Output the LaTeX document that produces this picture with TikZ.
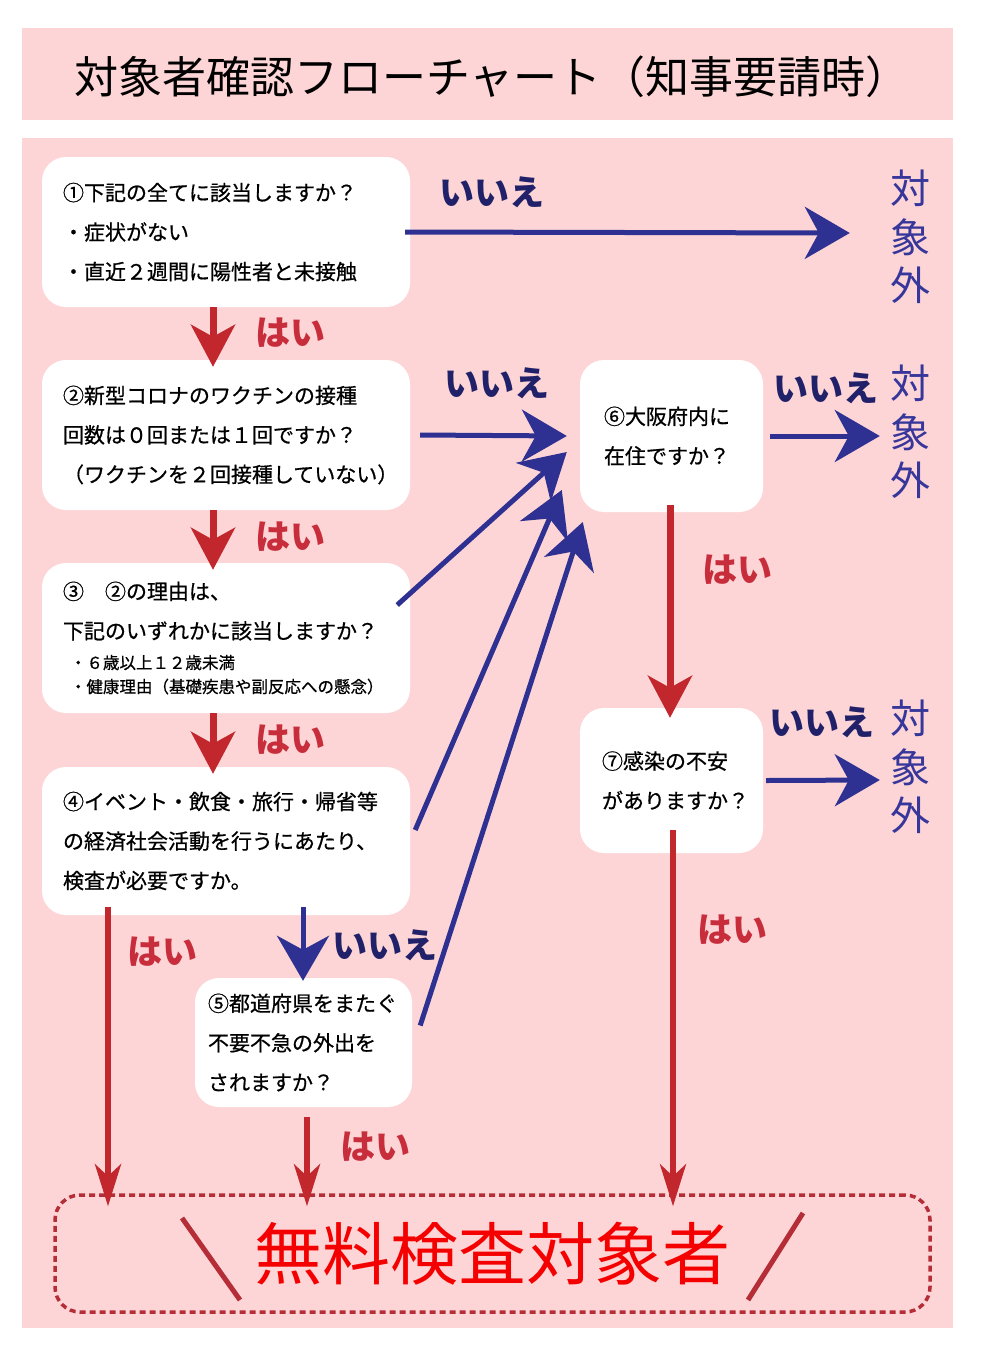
\documentclass[tikz,border=0pt]{standalone}
\usepackage{fontspec}
\setmainfont{Noto Sans CJK JP}
\newfontfamily\boxfont{Noto Sans CJK JP}[FakeBold=0.7]
\usetikzlibrary{
  arrows.meta,
  positioning,
  calc
}
\definecolor{pinkbg}{RGB}{253,213,214}
\definecolor{arrowred}{RGB}{193,39,45}
\definecolor{arrownavy}{RGB}{46,49,146}
\definecolor{yesred}{RGB}{200,45,60}
\definecolor{nonavy}{RGB}{33,33,105}
\definecolor{outnavy}{RGB}{55,55,155}
\definecolor{resred}{RGB}{245,0,0}
\definecolor{dashred}{RGB}{180,45,55}
\tikzset{
  qbox/.style={
    fill=white, rounded corners=24pt,
    inner xsep=21pt, inner ysep=0pt,
    align=left, text=black,
    font=\boxfont\fontsize{21}{39.5}\selectfont
  },
  yesarrow/.style={
    -{Stealth[length=42pt,width=44pt,inset=12pt]},
    draw=arrowred, line width=7pt
  },
  yeslong/.style={
    -{Stealth[length=42pt,width=26pt,inset=12pt]},
    draw=arrowred, line width=6pt
  },
  noarrow/.style={
    -{Stealth[length=45pt,width=52pt,inset=14pt]},
    draw=arrownavy, line width=5pt
  },
  yeslabel/.style={
    font=\fontsize{35}{35}\selectfont\bfseries, text=yesred
  },
  nolabel/.style={
    font=\fontsize{35}{35}\selectfont\bfseries, text=nonavy
  },
  outlabel/.style={
    font=\fontsize{40}{48.5}\selectfont, text=outnavy,
    align=center, inner sep=0pt
  },
  resbox/.style={
    draw=dashred, line width=3.5pt, dash pattern=on 6pt off 4pt,
    rounded corners=25pt, minimum width=875pt, minimum height=117pt,
    font=\fontsize{68}{68}\selectfont, text=resred
  },
  slashline/.style={
    draw=dashred, line width=5pt
  },
}

\begin{document}
\begin{tikzpicture}[x=1pt, y=-1pt]

  \useasboundingbox (0,0) rectangle (982,1350);

  %% Background bands
  \fill[pinkbg] (22,28) rectangle (953,120);
  \fill[pinkbg] (22,138) rectangle (953,1328);

  \node[font=\fontsize{44}{44}\selectfont] (title) at (492,77)
    {対象者確認フローチャート（知事要請時）};

  %% Questions
  \node[qbox, text width=326pt, minimum height=150pt] (box1) at (226,232)
    {①下記の全てに該当しますか？\\・症状がない\\・直近２週間に陽性者と未接触};
  \node[qbox, text width=326pt, minimum height=150pt] (box2) at (226,435)
    {②新型コロナのワクチンの接種\\回数は０回または１回ですか？\\（ワクチンを２回接種していない）};
  \node[qbox, text width=326pt, minimum height=150pt] (box3) at (226,638)
    {③　②の理由は、\\下記のいずれかに該当しますか？\par\vspace{6pt}%
     \fontsize{16.5}{24}\selectfont
     \hspace*{7pt}・６歳以上１２歳未満\\[-15.5pt]
     \hspace*{7pt}・健康理由（基礎疾患や副反応への懸念）};
  \node[qbox, text width=326pt, minimum height=148pt] (box4) at (226,841)
    {④イベント・飲食・旅行・帰省等\\の経済社会活動を行うにあたり、\\検査が必要ですか。};
  \node[qbox, inner xsep=13pt, text width=191pt, minimum height=129pt] (box5) at (303.5,1042.5)
    {⑤都道府県をまたぐ\\不要不急の外出を\\されますか？};
  \node[qbox, inner xsep=24pt, text width=135pt, minimum height=152pt] (box6) at (671.5,436)
    {⑥大阪府内に\\在住ですか？};
  \node[qbox, inner xsep=22pt, text width=139pt, minimum height=145pt] (box7) at (671.5,780.5)
    {⑦感染の不安\\がありますか？};

  %% Result
  \node[resbox] (res) at (492.5,1253.5) {無料検査対象者};
  \draw[slashline] ([shift={(-310.5,-35.5)}]res.center) -- ++(58,82);
  \draw[slashline] ([shift={(255.5,46.5)}]res.center) -- ++(55,-87);

  %% Out of scope
  \node[outlabel] (out1) at (910,237) {対\\象\\外};
  \node[outlabel] (out6) at (910,432) {対\\象\\外};
  \node[outlabel] (out7) at (910,767) {対\\象\\外};

  %% Labels
  \node[nolabel] (no1) at (492,192) {いいえ};
  \node[nolabel] (no2) at (497,383) {いいえ};
  \node[nolabel] (no6) at (826,388) {いいえ};
  \node[nolabel] (no7) at (822,722) {いいえ};
  \node[nolabel] (no4) at (385,945) {いいえ};
  \node[yeslabel] (yes1) at (290,333) {はい};
  \node[yeslabel] (yes2) at (290,537) {はい};
  \node[yeslabel] (yes3) at (290,740) {はい};
  \node[yeslabel] (yes4) at (162,952) {はい};
  \node[yeslabel] (yes5) at (375,1147) {はい};
  \node[yeslabel] (yes6) at (737,570) {はい};
  \node[yeslabel] (yes7) at (732,930) {はい};

  %% No arrows
  \draw[noarrow] ([xshift=-5]box1.east) -- ([shift={(-40,-4)}]out1.west);
  \draw[noarrow] ([xshift=10]box2.east) -- ([xshift=-13]box6.west);
  \draw[noarrow] ([shift={(-13,-33)}]box3.east) -- ([shift={(-13,16)}]box6.west);
  \draw[noarrow] ([shift={(5,-11)}]box4.east) -- ([shift={(-18,54)}]box6.west);
  \draw[noarrow] ([shift={(8,-17)}]box5.east) -- ([shift={(3,86)}]box6.west);
  \draw[noarrow] ([xshift=7]box6.east) -- ([shift={(-10,4)}]out6.west);
  \draw[noarrow] ([xshift=3]box7.east) -- ([shift={(-10,13)}]out7.west);
  \draw[noarrow] ([shift={(77,-8)}]box4.south) -- ([shift={(-0.5,3)}]box5.north);

  %% Yes arrows
  \draw[yesarrow] ([xshift=-13]box1.south) -- ([shift={(-13,7)}]box2.north);
  \draw[yesarrow] ([xshift=-13]box2.south) -- ([shift={(-13,7)}]box3.north);
  \draw[yesarrow] ([xshift=-13]box3.south) -- ([shift={(-13,7)}]box4.north);
  \draw[yesarrow] ([shift={(-1.5,-7)}]box6.south) -- ([shift={(-1.5,10)}]box7.north);
  \draw[yeslong] ([shift={(-118,-8)}]box4.south) -- ([shift={(-384.5,13)}]res.north);
  \draw[yeslong] ([shift={(3.5,10)}]box5.south) -- ([shift={(-185.5,13)}]res.north);
  \draw[yeslong] ([shift={(1.5,-23)}]box7.south) -- ([shift={(180.5,13)}]res.north);

\end{tikzpicture}
\end{document}
